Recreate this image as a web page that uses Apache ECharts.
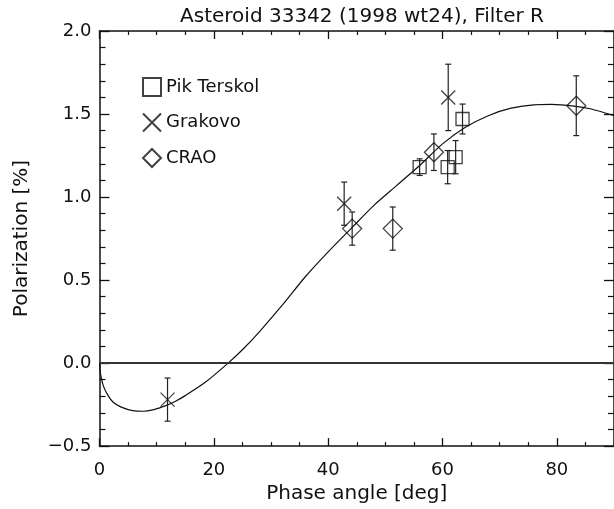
<!DOCTYPE html>
<html>
<head>
<meta charset="utf-8">
<script src="https://cdn.jsdelivr.net/npm/echarts@6/dist/echarts.min.js"></script>
<style>
  html, body { margin: 0; padding: 0; background: #fff; }
  #chart { width: 614px; height: 509px; }
</style>
</head>
<body>
<div id="chart"></div>
<script>
// observations: [phase angle, polarization, error]
const pikTerskol = [
  [56.0, 1.18, 0.05],
  [60.9, 1.18, 0.10],
  [62.3, 1.24, 0.10],
  [63.5, 1.47, 0.09]
];
const grakovo = [
  [11.9, -0.22, 0.13],
  [42.8, 0.96, 0.13],
  [61.0, 1.60, 0.20]
];
const crao = [
  [44.2, 0.81, 0.10],
  [51.3, 0.81, 0.13],
  [58.5, 1.27, 0.11],
  [83.4, 1.55, 0.18]
];
// fitted phase curve
const fitCurve = [
  [0, 0], [0.2, -0.07], [0.66, -0.136], [1.4, -0.19], [2.4, -0.236], [3.8, -0.265],
  [5.8, -0.286], [7.6, -0.29], [9.5, -0.28], [11.6, -0.256], [13.3, -0.23],
  [15.0, -0.196], [18.5, -0.116], [22.5, 0], [25, 0.08], [28, 0.19], [32, 0.35],
  [36, 0.52], [40, 0.67], [44, 0.81], [48, 0.95], [52, 1.07], [56, 1.19],
  [60, 1.32], [64, 1.42], [68, 1.49], [72, 1.535], [76, 1.555], [79, 1.558],
  [83, 1.548], [86, 1.53], [90, 1.49]
];
const xTicks = [0, 20, 40, 60, 80];
const yTicks = [-0.5, 0.0, 0.5, 1.0, 1.5, 2.0];

const font = 'DejaVu Sans';
const ink = '#111';

function errorBars(name, data) {
  return {
    name: name + ' err',
    type: 'custom',
    data: data,
    encode: { x: 0, y: 1 },
    silent: true,
    z: 3,
    renderItem: function (params, api) {
      const x = api.value(0), y = api.value(1), e = api.value(2);
      const hi = api.coord([x, y + e]);
      const lo = api.coord([x, y - e]);
      const c = 3;
      const st = { stroke: '#222', lineWidth: 1.2 };
      return {
        type: 'group',
        children: [
          { type: 'line', shape: { x1: hi[0], y1: hi[1], x2: lo[0], y2: lo[1] }, style: st },
          { type: 'line', shape: { x1: hi[0] - c, y1: hi[1], x2: hi[0] + c, y2: hi[1] }, style: st },
          { type: 'line', shape: { x1: lo[0] - c, y1: lo[1], x2: lo[0] + c, y2: lo[1] }, style: st }
        ]
      };
    }
  };
}

function marks(name, data, symbol, size) {
  return {
    name: name,
    type: 'scatter',
    data: data.map(d => [d[0], d[1]]),
    symbol: symbol,
    symbolSize: size,
    z: 4,
    itemStyle: { color: 'rgba(255,255,255,0)', borderColor: ink, borderWidth: 1.3 }
  };
}

const chart = echarts.init(document.getElementById('chart'), null, { renderer: 'canvas' });

const baseX = {
  type: 'value', min: 0, max: 90, interval: 20,
  axisLine: { onZero: false, lineStyle: { color: ink, width: 1.5 } },
  axisTick: { inside: true, length: 8, lineStyle: { color: ink, width: 1.3 } },
  minorTick: { show: true, splitNumber: 4, length: 4, lineStyle: { color: ink, width: 1.2 } },
  splitLine: { show: false }
};
const baseY = {
  type: 'value', min: -0.5, max: 2.0, interval: 0.5,
  axisLine: { onZero: false, lineStyle: { color: ink, width: 1.5 } },
  axisTick: { inside: true, length: 10, lineStyle: { color: ink, width: 1.3 } },
  minorTick: { show: true, splitNumber: 5, length: 6, lineStyle: { color: ink, width: 1.2 } },
  splitLine: { show: false }
};

chart.setOption({
  animation: false,
  backgroundColor: '#fff',
  title: {
    text: 'Asteroid 33342 (1998 wt24), Filter R',
    left: 357, top: 2, textAlign: 'center',
    textStyle: { fontFamily: font, fontSize: 20, fontWeight: 'normal', color: ink }
  },
  legend: {
    orient: 'vertical', left: 137, top: 72,
    itemWidth: 18, itemHeight: 18, itemGap: 15.5,
    data: ['Pik Terskol', 'Grakovo', 'CRAO'],
    textStyle: { fontFamily: font, fontSize: 18, color: ink }
  },
  grid: { left: 99.5, right: -7.5, top: 31, bottom: 61 },
  xAxis: [
    Object.assign({}, baseX, {
      position: 'bottom',
      name: 'Phase angle [deg]', nameLocation: 'middle', nameGap: 35,
      nameTextStyle: { fontFamily: font, fontSize: 20, color: ink },
      axisLabel: {
        margin: 15, fontFamily: font, fontSize: 18, color: ink,
        customValues: xTicks
      }
    }),
    Object.assign({}, baseX, { position: 'top', axisLabel: { show: false } })
  ],
  yAxis: [
    Object.assign({}, baseY, {
      position: 'left',
      name: 'Polarization [%]', nameLocation: 'middle', nameGap: 68,
      nameTextStyle: { fontFamily: font, fontSize: 20, color: ink },
      axisLabel: {
        margin: 8, fontFamily: font, fontSize: 18, color: ink,
        formatter: v => v.toFixed(1).replace('-', '\u2212'),
        customValues: yTicks
      }
    }),
    Object.assign({}, baseY, { position: 'right', axisLabel: { show: false } })
  ],
  series: [
    {
      name: 'fit',
      type: 'line',
      data: fitCurve,
      smooth: 0.25,
      showSymbol: false,
      silent: true,
      z: 2,
      lineStyle: { color: ink, width: 1.2 },
      markLine: {
        silent: true, symbol: 'none', label: { show: false },
        lineStyle: { color: '#333', width: 2, type: 'solid' },
        data: [{ yAxis: 0 }]
      }
    },
    errorBars('Pik Terskol', pikTerskol),
    errorBars('Grakovo', grakovo),
    errorBars('CRAO', crao),
    marks('Pik Terskol', pikTerskol, 'rect', 13),
    marks('Grakovo', grakovo, 'path://M0,0L10,10M10,0L0,10', 14),
    marks('CRAO', crao, 'diamond', 19)
  ]
});
</script>
</body>
</html>
